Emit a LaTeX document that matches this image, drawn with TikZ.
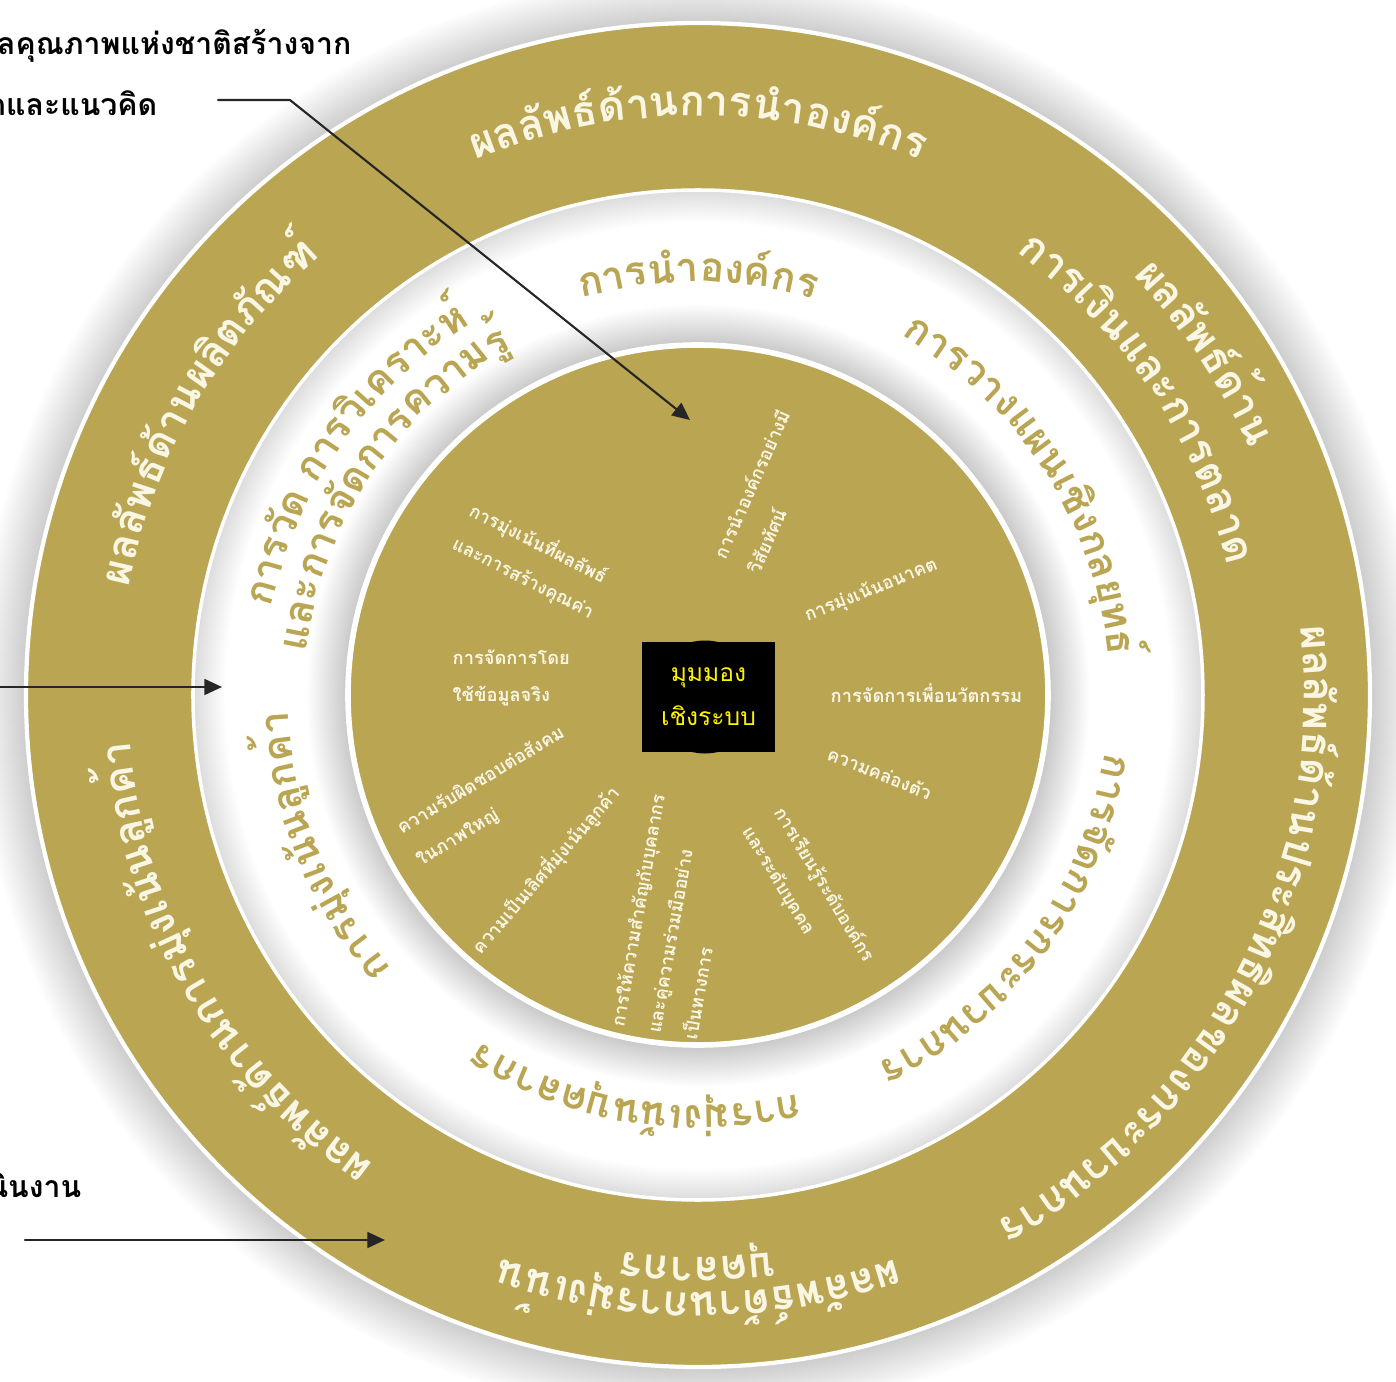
\documentclass[tikz,border=0pt]{standalone}
\usepackage{fontspec}
\newfontfamily\thaifont[Script=Thai]{Loma}
\usetikzlibrary{arrows.meta,decorations.text}
\definecolor{tqagold}{RGB}{186,165,83}
\definecolor{tqacream}{RGB}{250,246,228}
\newcommand{\ringbf}{\thaifont\bfseries\fontsize{12}{14}\selectfont}
\newcommand{\bandbf}{\thaifont\bfseries\fontsize{11.5}{14}\selectfont}
\pgfdeclareradialshading{ringglow}{\pgfpoint{0bp}{0bp}}{color(0bp)=(gray!42); color(23.2bp)=(gray!42); color(25bp)=(white); color(100bp)=(white)}
\pgfdeclareradialshading{bandshade}{\pgfpoint{0bp}{0bp}}{color(0bp)=(gray!45); color(17.3bp)=(gray!45); color(19.4bp)=(white); color(23.4bp)=(white); color(25bp)=(gray!28); color(100bp)=(gray!28)}

\begin{document}
\begin{tikzpicture}[line cap=round,line join=round,>={Triangle[length=5pt,width=4.5pt]},
  ringlbl/.style={decorate,decoration={text along path,text align=center,text={#1}}},
  corelbl/.style={text=tqacream,font=\thaifont\bfseries\fontsize{5.2}{10.5}\selectfont,inner sep=0pt,anchor=west,align=left},
  leadtxt/.style={font=\thaifont\bfseries\fontsize{8.6}{10}\selectfont,inner sep=0pt,anchor=east}]
\useasboundingbox (-6.98,-6.87) rectangle (6.98,6.95);
\clip (-6.98,-6.87) rectangle (6.98,6.95);
% rings
\shade[shading=ringglow] (0,0) circle (7.22);
\fill[tqagold] (0,0) circle (6.72);
\draw[white,line width=1.2pt] (0,0) circle (6.72);
\shade[shading=bandshade] (0,0) circle (5.05);
\draw[white,line width=1pt] (0,0) circle (5.05);
\fill[tqagold] (0,0) circle (3.50);
\draw[white,line width=1.6pt] (0,0) circle (3.50);
% results (outer ring)
\path[ringlbl={|\ringbf\color{tqacream}|{ผล}{ลัพ}{ธ์}{ด้าน}{การ}{นำ}{องค์}{กร}}] (170:5.79) arc[start angle=170,end angle=10,radius=5.79];
\path[ringlbl={|\ringbf\color{tqacream}|{ผล}{ลัพ}{ธ์}{ด้าน}}] (114:6.04) arc[start angle=114,end angle=-46,radius=6.04];
\path[ringlbl={|\ringbf\color{tqacream}|{การ}{เงิน}{และ}{การ}{ต}{ลาด}}] (114:5.45) arc[start angle=114,end angle=-46,radius=5.45];
\path[ringlbl={|\ringbf\color{tqacream}|{ผล}{ลัพ}{ธ์}{ด้าน}{ประ}{สิท}{ธิ}{ผล}{ของ}{กระ}{บวน}{การ}}] (53:6.06) arc[start angle=53,end angle=-107,radius=6.06];
\path[ringlbl={|\ringbf\color{tqacream}|{ผล}{ลัพ}{ธ์}{ด้าน}{การ}{มุ่ง}{เน้น}}] (-10:5.97) arc[start angle=-10,end angle=-170,radius=5.97];
\path[ringlbl={|\ringbf\color{tqacream}|{บุค}{ลา}{กร}}] (-10:5.62) arc[start angle=-10,end angle=-170,radius=5.62];
\path[ringlbl={|\ringbf\color{tqacream}|{ผล}{ลัพ}{ธ์}{ด้าน}{การ}{มุ่ง}{เน้น}{ลูก}{ค้า}}] (290:5.70) arc[start angle=290,end angle=130,radius=5.70];
\path[ringlbl={|\ringbf\color{tqacream}|{ผล}{ลัพ}{ธ์}{ด้าน}{ผลิต}{ภัณ}{ฑ์}}] (230:5.79) arc[start angle=230,end angle=70,radius=5.79];
% categories (white band)
\path[ringlbl={|\bandbf\color{tqagold}|{การ}{นำ}{องค์}{กร}}] (170:4.13) arc[start angle=170,end angle=10,radius=4.13];
\path[ringlbl={|\bandbf\color{tqagold}|{การ}{วาง}{แผน}{เชิง}{กล}{ยุท}{ธ์}}] (113:4.12) arc[start angle=113,end angle=-47,radius=4.12];
\path[ringlbl={|\bandbf\color{tqagold}|{การ}{จัด}{การ}{กระ}{บวน}{การ}}] (44:4.10) arc[start angle=44,end angle=-116,radius=4.10];
\path[ringlbl={|\bandbf\color{tqagold}|{การ}{มุ่ง}{เน้น}{บุค}{ลา}{กร}}] (-19:4.10) arc[start angle=-19,end angle=-179,radius=4.10];
\path[ringlbl={|\bandbf\color{tqagold}|{การ}{มุ่ง}{เน้น}{ลูก}{ค้า}}] (282:4.10) arc[start angle=282,end angle=122,radius=4.10];
\path[ringlbl={|\bandbf\color{tqagold}|{การ}{วัด}{\ }{การ}{วิ}{เคราะห์}}] (225:4.35) arc[start angle=225,end angle=65,radius=4.35];
\path[ringlbl={|\bandbf\color{tqagold}|{และ}{การ}{จัด}{การ}{ความ}{รู้}}] (226:3.93) arc[start angle=226,end angle=66,radius=3.93];
% core values (inner disk)
\node[corelbl,rotate=66] (cv1) at (0.37,1.30) {การนำองค์กรอย่างมี\\วิสัยทัศน์};
\node[corelbl,rotate=22] (cv2) at (1.07,0.78) {การมุ่งเน้นอนาคต};
\node[corelbl] (cv3) at (1.32,0.02) {การจัดการเพื่อนวัตกรรม};
\node[corelbl,rotate=-22] (cv4) at (1.30,-0.57) {ความคล่องตัว};
\node[corelbl,rotate=-59] (cv5) at (0.64,-1.23) {การเรียนรู้ระดับองค์กร\\และระดับบุคคล};
\node[corelbl,rotate=80] (cv6) at (-0.45,-3.38) {การให้ความสำคัญกับบุคลากร\\และคู่ความร่วมมืออย่าง\\เป็นทางการ};
\node[corelbl,rotate=49] (cv7) at (-2.23,-2.56) {ความเป็นเลิศที่มุ่งเน้นลูกค้า};
\node[corelbl,rotate=31] (cv8) at (-2.90,-1.51) {ความรับผิดชอบต่อสังคม\\ในภาพใหญ่};
\node[corelbl] (cv9) at (-2.46,0.17) {การจัดการโดย\\ใช้ข้อมูลจริง};
\node[corelbl,rotate=-27] (cv10) at (-2.36,1.70) {การมุ่งเน้นที่ผลลัพธ์\\และการสร้างคุณค่า};
% hub
\node[circle,fill=black,minimum size=1.13cm] (hubdisk) at (0.07,-0.02) {};
\node[fill=black,minimum width=1.33cm,minimum height=1.10cm,text=yellow,align=center,
  font=\thaifont\fontsize{7}{12.5}\selectfont] (hub) at (0.105,-0.02) {มุมมอง\\เชิงระบบ};
% lead texts and arrows
\node[leadtxt] (lead1) at (-3.46,6.50) {เกณฑ์รางวัลคุณภาพแห่งชาติสร้างจาก};
\node[leadtxt] (lead2) at (-5.40,5.92) {ค่านิยมหลักและแนวคิด};
\node[leadtxt] (lead3) at (-6.16,-4.90) {ผลการดำเนินงาน};
\coordinate (k1) at (-4.80,5.95);
\coordinate (k2) at (-4.08,5.95);
\coordinate (k3) at (-0.08,2.75);
\draw[->,line width=0.6pt,color=black!85] (k1) -- (k2) -- (k3);
\coordinate (m1) at (-7.05,0.08);
\coordinate (m2) at (-4.76,0.08);
\draw[->,line width=0.6pt,color=black!85] (m1) -- (m2);
\coordinate (p1) at (-6.73,-5.45);
\coordinate (p2) at (-3.13,-5.45);
\draw[->,line width=0.6pt,color=black!85] (p1) -- (p2);
\end{tikzpicture}
\end{document}
